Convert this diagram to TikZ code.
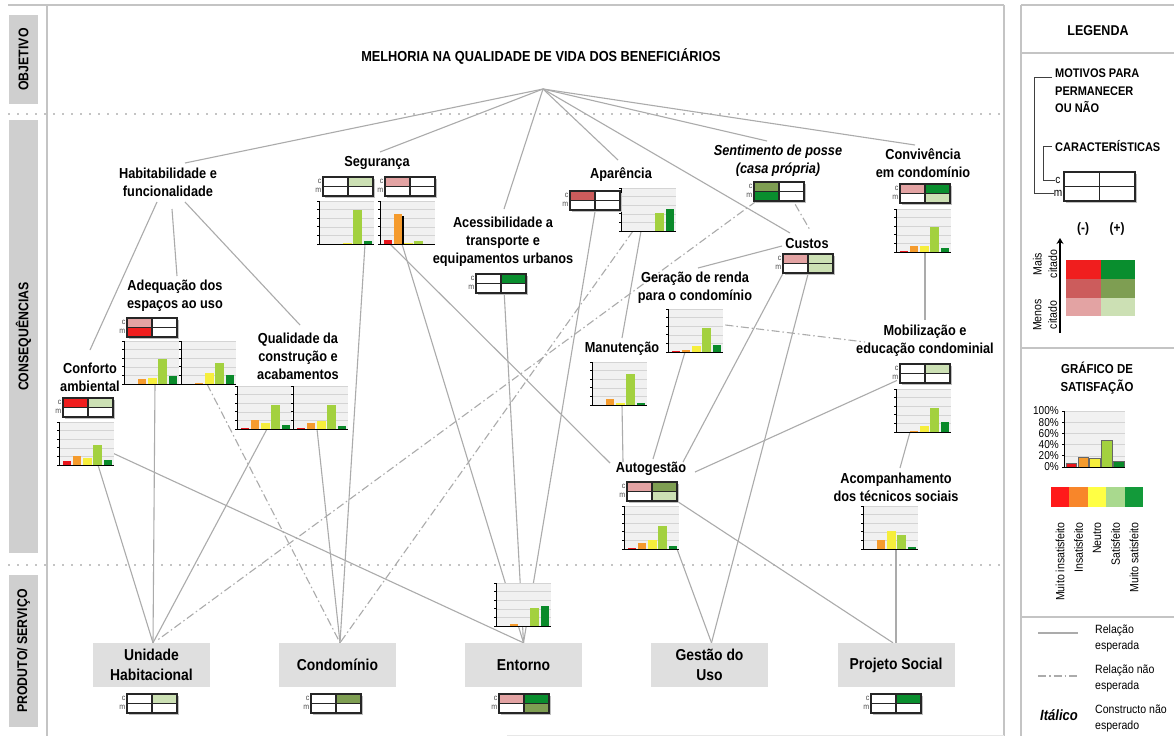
\documentclass[tikz,border=0pt]{standalone}
\usepackage{fontspec}
\setmainfont{Liberation Sans}[FakeStretch=0.88]
\usetikzlibrary{calc,arrows.meta}
\pgfdeclarelayer{bg}
\pgfsetlayers{bg,main}

\definecolor{linec}{HTML}{ABABAB}
\definecolor{framec}{HTML}{C4C4C4}
\definecolor{boxg}{HTML}{CFCFCF}
\definecolor{prodg}{HTML}{DFDFDF}
\definecolor{redA}{HTML}{F01E1E}
\definecolor{redB}{HTML}{CC5C5C}
\definecolor{redC}{HTML}{E3A3A3}
\definecolor{greenA}{HTML}{098E2E}
\definecolor{greenB}{HTML}{7E9E52}
\definecolor{greenC}{HTML}{CCE0B4}
\definecolor{barcol0}{HTML}{E8141B}
\definecolor{barcol1}{HTML}{F59B2D}
\definecolor{barcol2}{HTML}{F6EE3C}
\definecolor{barcol3}{HTML}{A3D13F}
\definecolor{barcol4}{HTML}{0A8A2A}
\definecolor{stripc0}{HTML}{FF1A1A}
\definecolor{stripc1}{HTML}{F8862A}
\definecolor{stripc2}{HTML}{FFFF44}
\definecolor{stripc3}{HTML}{A9D98E}
\definecolor{stripc4}{HTML}{139A3A}
\definecolor{chartbg}{HTML}{F1F1F1}
\definecolor{gridc}{HTML}{D4D4D4}

\tikzset{
  rel/.style={draw=linec, line width=1.1pt},
  nexp/.style={draw=linec, line width=1.1pt, dash pattern=on 8pt off 3pt on 1.5pt off 3pt},
  lab/.style={font=\bfseries\fontsize{14.5}{18}\selectfont, align=center, inner sep=1pt},
  itlab/.style={font=\bfseries\itshape\fontsize{14.5}{18}\selectfont, align=center, inner sep=1pt},
  leglab/.style={font=\bfseries\fontsize{12.5}{17.5}\selectfont, inner sep=0pt},
  prod/.style={fill=prodg, minimum width=117pt, minimum height=44pt, inner sep=0pt, align=center, font=\bfseries\fontsize{15.8}{20}\selectfont},
  side/.style={fill=boxg, inner sep=0pt},
  sidetxt/.style={rotate=90, font=\bfseries\fontsize{14}{14}\selectfont},
  frameline/.style={draw=framec, line width=1.8pt},
  dotline/.style={draw=framec, line width=1.6pt, dash pattern=on 1.6pt off 7.4pt},
  cmlab/.style={font=\fontsize{8}{8}\selectfont, text=black!70, inner sep=0pt},
  cell/.style={draw=black!85, line width=1.2pt},
  small/.style={font=\fontsize{12}{15.5}\selectfont, inner sep=0pt},
}

% chart: name, x0, ybottom, list of 5 values (percent)
\newcommand{\drawchart}[4]{%
  \fill[chartbg] (#2,#3) rectangle ++(55,-43);
  \foreach \g in {1,...,5} {\draw[draw=gridc, line width=0.6pt] (#2,#3-\g*8.6) -- ++(55,0);}
  \foreach \v [count=\i from 0] in {#4} {\fill[fill=barcol\i] (#2+3.5+\i*10.3,#3) rectangle ++(8.6,-\v*0.43);}
  \draw[black, line width=1pt] (#2,#3-43) -- (#2,#3) -- ++(55,0);
  \foreach \g in {0,...,5} {\draw[black, line width=0.8pt] (#2,#3-\g*8.6) -- ++(-2.5,0);}
  \node[inner sep=0pt, minimum width=55pt, minimum height=43pt, anchor=south west] (#1) at (#2,#3) {};
}
% c/m table: name, x, ytop, c-left, c-right, m-left, m-right
\newcommand{\cmtable}[7]{%
  \fill[black!25] (#2+1.5,#3+1.5) rectangle ++(50,19);
  \filldraw[cell, fill=#4] (#2,#3) rectangle ++(25,9.5);
  \filldraw[cell, fill=#5] (#2+25,#3) rectangle ++(25,9.5);
  \filldraw[cell, fill=#6] (#2,#3+9.5) rectangle ++(25,9.5);
  \filldraw[cell, fill=#7] (#2+25,#3+9.5) rectangle ++(25,9.5);
  \node[inner sep=0pt, minimum width=50pt, minimum height=19pt, anchor=north west] (#1) at (#2,#3) {};
  \node[cmlab, anchor=east] (#1c) at (#2-1.5,#3+4) {c};
  \node[cmlab, anchor=east] (#1m) at (#2-1.5,#3+13.5) {m};
}

\begin{document}
\begin{tikzpicture}[x=1pt,y=-1pt]
\useasboundingbox (0,0) rectangle (1174,736);

% ---------- side labels
\node[side, sidetxt, minimum width=89pt, minimum height=29pt] (sObj) at (23.5,59.5) {OBJETIVO};
\node[side, sidetxt, minimum width=433pt, minimum height=29pt] (sCons) at (23.5,336.5) {CONSEQUÊNCIAS};
\node[side, sidetxt, minimum width=152pt, minimum height=29pt] (sProd) at (23.5,651) {PRODUTO/ SERVIÇO};

% ---------- objective
\node[lab] (obj) at (541,57) {MELHORIA NA QUALIDADE DE VIDA DOS BENEFICIÁRIOS};
\coordinate (hub) at (543,89);

% ---------- consequences
\node[lab] (habit) at (168,182) {Habitabilidade e\\funcionalidade};
\node[lab] (adeq) at (175,296) {Adequação dos\\espaços ao uso};
\node[lab] (conf) at (90,377) {Conforto\\ambiental};
\node[lab] (qual) at (298,356) {Qualidade da\\construção e\\acabamentos};
\node[lab] (seg) at (377,163) {Segurança};
\node[lab] (acess) at (503,242) {Acessibilidade a\\transporte e\\equipamentos urbanos};
\node[lab] (apar) at (621,175) {Aparência};
\node[itlab] (sent) at (778,161) {Sentimento de posse\\(casa própria)};
\node[lab] (conv) at (923,163) {Convivência\\em condomínio};
\node[lab] (custos) at (807,244) {Custos};
\node[lab] (gera) at (695,288) {Geração de renda\\para o condomínio};
\node[lab] (manut) at (622,349) {Manutenção};
\node[lab] (mobil) at (925,341) {Mobilização e\\educação condominial};
\node[lab] (autog) at (651,469) {Autogestão};
\node[lab] (acomp) at (896,487) {Acompanhamento\\dos técnicos sociais};

% ---------- products
\node[prod] (uh) at (151.5,665) {Unidade\\Habitacional};
\node[prod] (cond) at (337.5,665) {Condomínio};
\node[prod] (ent) at (523.5,665) {Entorno};
\node[prod] (gest) at (709.5,665) {Gestão do\\Uso};
\node[prod] (proj) at (896,665) {Projeto Social};

% ---------- charts
\drawchart{chConf}{59}{465}{10,20,16,47,12}
\drawchart{chAdeqA}{124}{384}{0,12,14,58,18}
\drawchart{chAdeqB}{181}{384}{0,2,26,50,20}
\drawchart{chQualA}{237}{429}{2,21,14,55,10}
\drawchart{chQualB}{293}{429}{2,14,18,56,6}
\drawchart{chSegA}{319}{244}{0,1,3,78,8}
\drawchart{chSegB}{380}{244}{10,70,3,7,0}
\fill[black] (380+3.5+10.3+8.6,244) rectangle ++(1.8,-0.64*43);
\drawchart{chApar}{621}{231}{0,1,0,42,52}
\drawchart{chConv}{896}{252}{2,14,13,58,10}
\drawchart{chGera}{668}{352}{2,5,13,56,17}
\drawchart{chManut}{592}{405}{0,15,5,71,5}
\drawchart{chMobil}{896}{432}{0,2,13,55,24}
\drawchart{chAutog}{624}{549}{2,14,20,54,7}
\drawchart{chAcomp}{863}{549}{0,22,42,33,5}
\drawchart{chEnt}{496}{626}{0,5,1,42,47}

% ---------- c/m tables
\cmtable{tbAdeq}{127}{318}{redC}{white}{redA}{white}
\cmtable{tbConf}{63}{398}{redA}{greenC}{white}{white}
\cmtable{tbSegA}{323}{177}{white}{greenC}{white}{white}
\cmtable{tbSegB}{385}{177}{redC}{white}{white}{white}
\cmtable{tbAcess}{476}{274}{white}{greenA}{white}{white}
\cmtable{tbApar}{570}{191}{redB}{white}{white}{white}
\cmtable{tbSent}{754}{182}{greenB}{white}{greenA}{white}
\cmtable{tbCustos}{783}{254}{redC}{greenC}{white}{greenC}
\cmtable{tbConv}{900}{184}{redC}{greenA}{white}{greenC}
\cmtable{tbMobil}{900}{364}{white}{greenC}{white}{white}
\cmtable{tbAutog}{627}{482}{redC}{greenB}{white}{greenC}
\cmtable{tbUH}{127}{694}{white}{greenC}{white}{white}
\cmtable{tbCond}{311}{694}{white}{greenB}{white}{white}
\cmtable{tbEnt}{499}{694}{redC}{greenA}{white}{greenB}
\cmtable{tbProj}{871}{694}{white}{greenA}{white}{white}

% ---------- convergence points
\coordinate (uhT) at ($(uh.north)+(1.5,0)$);
\coordinate (condT) at ($(cond.north)+(2.5,0)$);
\coordinate (entT) at (ent.north);
\coordinate (gestT) at ($(gest.north)+(2,0)$);

% ---------- legend
\node[lab, font=\bfseries\fontsize{14.2}{15}\selectfont] (legT) at (1098,31) {LEGENDA};
\node[leglab, align=left, anchor=north west] (motiv) at (1055,69) {MOTIVOS PARA\\PERMANECER\\OU NÃO};
\node[leglab, anchor=west] (carac) at (1055,146) {CARACTERÍSTICAS};
\node[font=\fontsize{11.5}{11}\selectfont, inner sep=0pt] (lc) at (1058,180) {c};
\node[font=\fontsize{11.5}{11}\selectfont, inner sep=0pt] (lm) at (1058,193) {m};
\fill[black!25] (1065.5,173.5) rectangle ++(71,29);
\filldraw[cell, fill=white] (1064,172) rectangle ++(35.5,14.5);
\filldraw[cell, fill=white] (1099.5,172) rectangle ++(35.5,14.5);
\filldraw[cell, fill=white] (1064,186.5) rectangle ++(35.5,14.5);
\filldraw[cell, fill=white] (1099.5,186.5) rectangle ++(35.5,14.5);
\node[inner sep=0pt, minimum width=71pt, minimum height=29pt, anchor=north west] (legtab) at (1064,172) {};
\draw[black!75, line width=0.8pt] ($(motiv.north west)+(-3,8)$) -- ++(-18,0) |- (lm.west);
\draw[black!75, line width=0.8pt] ($(carac.west)+(-3,0)$) -- ++(-9,0) |- (lc.west);

\node[lab, font=\bfseries\fontsize{13.6}{14}\selectfont] (minus) at (1083,229) {(-)};
\node[lab, font=\bfseries\fontsize{13.6}{14}\selectfont] (plus) at (1117,229) {(+)};
\coordinate (arrB) at (1060,333);
\coordinate (arrT) at (1060,238);
\draw[-{Stealth[length=6pt,width=7pt]}, line width=1.2pt, black] (arrB) -- (arrT);
\node[small, rotate=90, align=center] (mais) at (1045,264) {Mais\\citado};
\node[small, rotate=90, align=center] (menos) at (1045,315) {Menos\\citado};
\fill[redA] (1066,260) rectangle (1100.5,279);
\fill[redB] (1066,279) rectangle (1100.5,298);
\fill[redC] (1066,298) rectangle (1100.5,316);
\fill[greenA] (1100.5,260) rectangle (1135,279);
\fill[greenB] (1100.5,279) rectangle (1135,298);
\fill[greenC] (1100.5,298) rectangle (1135,316);
\node[inner sep=0pt, minimum width=69pt, minimum height=56pt, anchor=north west] (cgrid) at (1066,260) {};

\node[lab, font=\bfseries\fontsize{13}{18}\selectfont] (graf) at (1097,378) {GRÁFICO DE\\SATISFAÇÃO};
% legend chart
\fill[chartbg] (1064,467) rectangle ++(61,-56);
\foreach \g in {1,...,5} {\draw[draw=gridc, line width=0.6pt] (1064,467-\g*11.2) -- ++(61,0);}
\foreach \v [count=\i from 0] in {7,18,15,47,10} {\filldraw[fill=barcol\i, draw=black!60, line width=0.4pt] (1064+2+\i*11.8,467) rectangle ++(10.5,-\v*0.56);}
\draw[black, line width=1pt] (1064,411) -- (1064,467) -- ++(61,0);
\foreach \g/\p in {0/0,1/20,2/40,3/60,4/80,5/100} {
  \draw[black, line width=0.8pt] (1064,467-\g*11.2) -- ++(-2.5,0);
  \node[anchor=east, font=\fontsize{11.4}{11}\selectfont, inner sep=0pt] at (1059,467-\g*11.2) {\p\%};
}
\node[inner sep=0pt, minimum width=61pt, minimum height=56pt, anchor=south west] (legch) at (1064,467) {};
\foreach \i in {0,...,4} {\fill[fill=stripc\i] (1051+\i*18.4,487) rectangle ++(18.4,20);}
\node[inner sep=0pt, minimum width=92pt, minimum height=20pt, anchor=north west] (strip) at (1051,487) {};
\node[small, rotate=90, anchor=east] (s0) at (1060,522) {Muito insatisfeito};
\node[small, rotate=90, anchor=east] (s1) at (1078.5,522) {Insatisfeito};
\node[small, rotate=90, anchor=east] (s2) at (1097,522) {Neutro};
\node[small, rotate=90, anchor=east] (s3) at (1115.5,522) {Satisfeito};
\node[small, rotate=90, anchor=east] (s4) at (1134,522) {Muito satisfeito};

\coordinate (l1a) at (1038,633);
\coordinate (l1b) at (1078,633);
\coordinate (l2a) at (1038,676);
\coordinate (l2b) at (1078,676);
\draw[rel] (l1a) -- (l1b);
\draw[nexp] (l2a) -- (l2b);
\node[small, align=left, anchor=west] (t1) at (1095,638.5) {Relação\\esperada};
\node[small, align=left, anchor=west] (t2) at (1095,678.5) {Relação não\\esperada};
\node[font=\bfseries\itshape\fontsize{14.8}{15}\selectfont, inner sep=0pt] (ital) at (1059,715) {Itálico};
\node[small, align=left, anchor=west] (t3) at (1095,718.5) {Constructo não\\esperado};

% ---------- background layer: frames, separators, connectors
\begin{pgfonlayer}{bg}
\fill[white] (0,0) rectangle (1174,736);
\draw[frameline] (8,5) -- (1004,5);
\draw[frameline] (47,5) -- (47,736);
\draw[frameline] (1004,5) -- (1004,736);
\draw[frameline] (1021,5) -- (1174,5);
\draw[frameline] (1021,5) -- (1021,736);
\draw[frameline] (1021,53) -- (1174,53);
\draw[frameline] (1021,348) -- (1174,348);
\draw[frameline] (1021,617) -- (1174,617);
\draw[draw=framec!40, line width=0.8pt] (507,735) -- (1004,735);
\draw[dotline] (8,114) -- (1004,114);
\draw[dotline] (8,565) -- (1004,565);

% from objective
\draw[rel] (hub) -- ($(habit)+(17,-19)$);
\draw[rel] (hub) -- ($(seg)+(3,-11)$);
\draw[rel] (hub) -- ($(acess)+(1,-33)$);
\draw[rel] (hub) -- ($(apar)+(-3,-15)$);
\draw[rel] (hub) -- ($(custos)+(-17,-11)$);
\draw[rel] (hub) -- ($(sent)+(-11,-20)$);
\draw[rel] (hub) -- ($(conv)+(-8,-18)$);
% habitabilidade
\draw[rel] ($(habit)+(-11,20)$) -- ($(conf)+(0,-27)$);
\draw[rel] ($(habit)+(4,27)$) -- ($(adeq)+(2,-20)$);
\draw[rel] ($(habit)+(17,20)$) -- ($(qual)+(2,-31)$);
% unidade habitacional
\draw[rel] ($(chConf.south west)+(39,0)$) -- (uhT);
\draw[rel] ($(chAdeqA.south west)+(31,0)$) -- (uhT);
\draw[rel] ($(chQualA.south west)+(30,0)$) -- (uhT);
\draw[nexp] ($(tbSent.south west)+(2,0)$) -- ($(uh.north)+(5,-2)$);
% condominio
\draw[rel] ($(chSegA.south west)+(46,0)$) -- (condT);
\draw[rel] ($(chQualB.south west)+(24,0)$) -- (condT);
\draw[nexp] ($(chAdeqB.south west)+(26,0)$) -- (condT);
\draw[nexp] ($(chApar.south west)+(12,0)$) -- (condT);
% entorno
\draw[rel] ($(chConf.south east)+(-4,-13)$) -- (entT);
\draw[rel] ($(chSegB.south west)+(22,0)$) -- (entT);
\draw[rel] ($(tbAcess.south)+(3,0)$) -- (entT);
\draw[rel] (tbApar.south) -- (entT);
% autogestao
\draw[rel] ($(chSegB.south west)+(10,0)$) -- ($(autog)+(-41,-6)$);
\draw[rel] ($(chManut.south west)+(30,0)$) -- ($(autog)+(-28,-7)$);
\draw[rel] ($(chGera.south west)+(17,0)$) -- ($(autog)+(2,-10)$);
\draw[rel] (tbCustos.south west) -- ($(autog)+(32,-7)$);
\draw[rel] ($(tbMobil.south west)+(-3,-3)$) -- ($(autog)+(44,3)$);
% others
\draw[rel] ($(chApar.south west)+(20,0)$) -- ($(manut)+(0,-11)$);
\draw[rel] (tbCustos.south) -- (gestT);
\draw[rel] ($(chAutog.south west)+(53,0)$) -- (gestT);
\draw[rel] (tbAutog.south east) -- ($(proj.north)+(-3,0)$);
\draw[rel] ($(chAcomp.south west)+(33,0)$) -- (proj.north);
\draw[rel] ($(gera)+(3,-20)$) -- ($(custos)+(-25,2)$);
\draw[nexp] ($(tbSent.south)+(16,3)$) -- ($(custos)+(3,-14)$);
\draw[nexp] ($(chGera.south east)+(2,-27)$) -- ($(mobil)+(-60,1)$);
\draw[rel] ($(chConv.south west)+(29,0)$) -- ($(mobil)+(0,-21)$);
\draw[rel] ($(chMobil.south west)+(14,0)$) -- ($(acomp)+(4,-19)$);
\end{pgfonlayer}
\end{tikzpicture}
\end{document}
